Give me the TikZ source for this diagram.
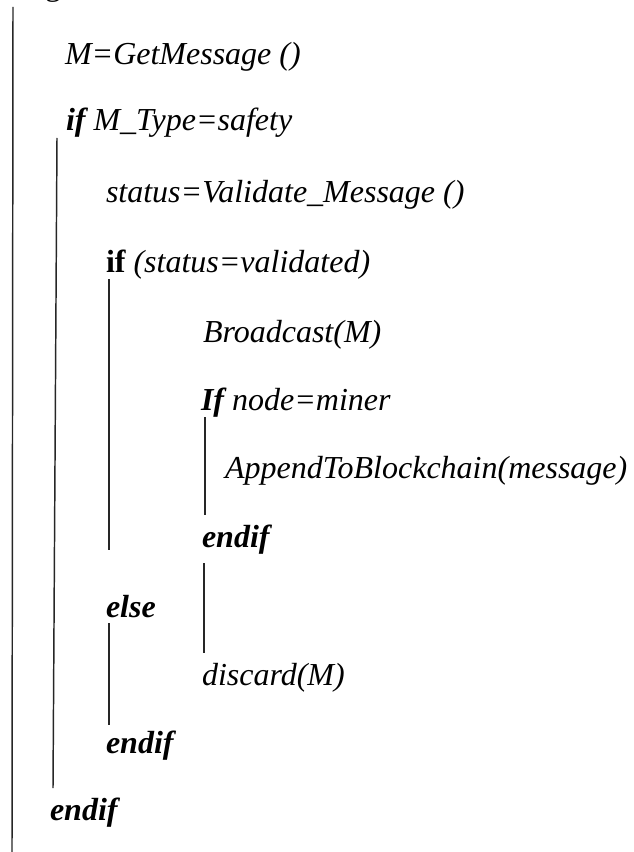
\documentclass[tikz,border=0pt]{standalone}
\usepackage{fontspec}
\setmainfont{Liberation Serif}
\begin{document}
\begin{tikzpicture}[x=0.75pt,y=-0.75pt,
  txt/.style={anchor=base west,inner sep=0pt,outer sep=0pt,font=\fontsize{24}{28}\selectfont\itshape},
  bar/.style={line width=1.1pt,draw=black!85}]
\useasboundingbox (0,0) rectangle (634,852);
\clip (0,0) rectangle (634,852);
% partially visible glyph at the top edge
\node[txt,font=\fontsize{24}{28}\selectfont] (cut) at (45,-4) {g};
% code lines
\node[txt] (l1) at (65,65) {M=GetMessage ()};
\node[txt] (l2) at (66,131) {\bfseries if\mdseries{} M\_Type=safety};
\node[txt] (l3) at (106,203) {status=Validate\_Message ()};
\node[txt] (l4) at (106,272) {\upshape\bfseries if\mdseries\itshape{} (status=validated)};
\node[txt] (l5) at (203,342) {Broadcast(M)};
\node[txt] (l6) at (201,410) {\bfseries If\mdseries{} node=miner};
\node[txt] (l7) at (225,478) {AppendToBlockchain(message)};
\node[txt] (l8) at (202,547) {\bfseries endif};
\node[txt] (l9) at (106,617) {\bfseries else};
\node[txt] (l10) at (202,685) {discard(M)};
\node[txt] (l11) at (106,753) {\bfseries endif};
\node[txt] (l12) at (50,820) {\bfseries endif};
% scope bars
\coordinate (a1) at (13,7);   \coordinate (a2) at (12,852);
\coordinate (b1) at (57,138); \coordinate (b2) at (53,788);
\coordinate (c1) at (109,279); \coordinate (c2) at (109,550);
\coordinate (d1) at (205,417); \coordinate (d2) at (205,515);
\coordinate (e1) at (204,563); \coordinate (e2) at (204,653);
\coordinate (f1) at (109,623); \coordinate (f2) at (109,725);
\draw[bar] (a1) -- (a2);
\draw[bar] (b1) -- (b2);
\draw[bar] (c1) -- (c2);
\draw[bar] (d1) -- (d2);
\draw[bar] (e1) -- (e2);
\draw[bar] (f1) -- (f2);
\end{tikzpicture}
\end{document}
